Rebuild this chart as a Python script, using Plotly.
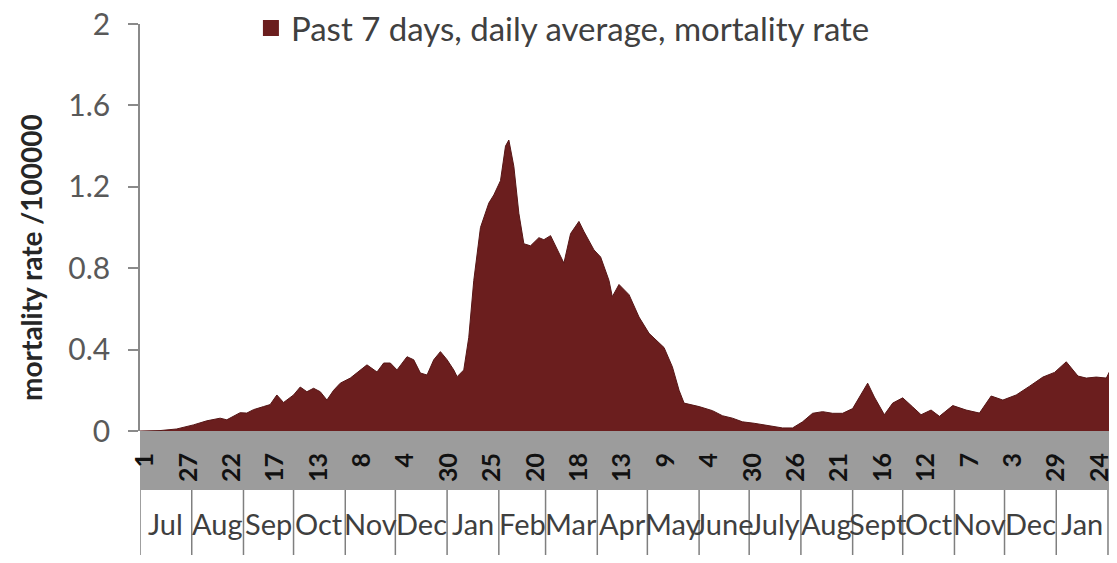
import plotly.graph_objects as go
import pandas as pd

# ---- data ----
dates = ['2020-07-01','2020-07-13','2020-07-23','2020-08-02','2020-08-10','2020-08-18','2020-08-22','2020-08-30','2020-09-03','2020-09-07',
         '2020-09-13','2020-09-17','2020-09-21','2020-09-25','2020-10-01','2020-10-05','2020-10-09','2020-10-13','2020-10-17','2020-10-21',
         '2020-10-25','2020-10-29','2020-11-04','2020-11-10','2020-11-14','2020-11-20','2020-11-24','2020-11-28','2020-12-02','2020-12-08',
         '2020-12-12','2020-12-16','2020-12-20','2020-12-24','2020-12-28','2021-01-01','2021-01-05','2021-01-07','2021-01-11','2021-01-14',
         '2021-01-17','2021-01-21','2021-01-26','2021-01-29','2021-02-02','2021-02-05','2021-02-07','2021-02-10','2021-02-13','2021-02-16',
         '2021-02-20','2021-02-25','2021-02-28','2021-03-04','2021-03-09','2021-03-12','2021-03-16','2021-03-21','2021-03-24','2021-03-30',
         '2021-04-03','2021-04-08','2021-04-10','2021-04-14','2021-04-20','2021-04-26','2021-05-02','2021-05-08','2021-05-11','2021-05-16',
         '2021-05-20','2021-05-23','2021-06-01','2021-06-09','2021-06-15','2021-06-21','2021-06-27','2021-07-04','2021-07-13','2021-07-21',
         '2021-07-27','2021-08-02','2021-08-08','2021-08-14','2021-08-20','2021-08-26','2021-09-01','2021-09-05','2021-09-10','2021-09-14',
         '2021-09-20','2021-09-25','2021-10-01','2021-10-07','2021-10-12','2021-10-18','2021-10-23','2021-10-31','2021-11-08','2021-11-16',
         '2021-11-23','2021-11-30','2021-12-08','2021-12-16','2021-12-24','2021-12-31','2022-01-07','2022-01-14','2022-01-19','2022-01-25',
         '2022-01-31','2022-02-03']

rate = [0.0, 0.002, 0.01, 0.03, 0.05, 0.063, 0.055, 0.09, 0.088, 0.105,
        0.12, 0.13, 0.177, 0.14, 0.177, 0.216, 0.193, 0.21, 0.193, 0.152,
        0.2, 0.235, 0.26, 0.30, 0.325, 0.29, 0.334, 0.334, 0.30, 0.365,
        0.35, 0.285, 0.275, 0.35, 0.39, 0.35, 0.30, 0.267, 0.30, 0.46,
        0.74, 1.0, 1.12, 1.16, 1.23, 1.40, 1.43, 1.30, 1.07, 0.92,
        0.91, 0.95, 0.94, 0.96, 0.88, 0.825, 0.97, 1.03, 0.98, 0.89,
        0.855, 0.74, 0.66, 0.72, 0.67, 0.56, 0.48, 0.43, 0.41, 0.315,
        0.20, 0.137, 0.12, 0.10, 0.075, 0.063, 0.045, 0.038, 0.025, 0.015,
        0.015, 0.045, 0.087, 0.095, 0.087, 0.087, 0.11, 0.167, 0.235, 0.167,
        0.08, 0.137, 0.163, 0.118, 0.08, 0.103, 0.072, 0.125, 0.103, 0.088,
        0.172, 0.152, 0.177, 0.22, 0.265, 0.288, 0.34, 0.27, 0.26, 0.265,
        0.26, 0.31]

tick_dates = ['2020-07-01','2020-07-27','2020-08-22','2020-09-17','2020-10-13','2020-11-08','2020-12-04','2020-12-30',
              '2021-01-25','2021-02-20','2021-03-18','2021-04-13','2021-05-09','2021-06-04','2021-06-30','2021-07-26',
              '2021-08-21','2021-09-16','2021-10-12','2021-11-07','2021-12-03','2021-12-29','2022-01-24']
tick_text = ['1','27','22','17','13','8','4','30','25','20','18','13','9','4','30','26','21','16','12','7','3','29','24']

month_starts = ['2020-07-01','2020-08-01','2020-09-01','2020-10-01','2020-11-01','2020-12-01','2021-01-01','2021-02-01',
                '2021-03-01','2021-04-01','2021-05-01','2021-06-01','2021-07-01','2021-08-01','2021-09-01','2021-10-01',
                '2021-11-01','2021-12-01','2022-01-01','2022-02-01']
month_names = ['Jul','Aug','Sep','Oct','Nov','Dec','Jan','Feb','Mar','Apr','May','June','July','Aug','Sept','Oct',
               'Nov','Dec','Jan','Feb']

x_start = '2020-07-01'
x_end = '2022-02-04'
series_name = 'Past 7 days, daily average, mortality rate'
y_title = 'mortality rate /100000'

# ---- style ----
FONT = 'Lato'
AREA = '#6b1e1e'
# the page body has an 8px margin on every side, so the figure is sized to fit
# inside the 1117x563 window without scrollbars
W, H = 1109, 547
ML, MR, MT, MB = 132, 4, 16, 124
plot_w = W - ML - MR
plot_h = H - MT - MB
band_bottom = -(490 - 431) / plot_h
month_label_y = -(523 - 431) / plot_h
row_bottom = -(570 - 431) / plot_h

fig = go.Figure()
fig.add_trace(go.Scatter(
    x=dates, y=rate, mode='lines', fill='tozeroy',
    line=dict(color='#561616', width=1), fillcolor=AREA,
    showlegend=False, hoverinfo='skip'))
# legend proxy (square key as in the reference)
fig.add_trace(go.Scatter(
    x=[None], y=[None], mode='markers', name=series_name,
    marker=dict(symbol='square', size=17, color=AREA)))

shapes = [dict(type='rect', xref='paper', yref='paper', x0=0, x1=1, y0=band_bottom, y1=0,
               fillcolor='#9c9c9c', line=dict(width=0), layer='below')]
for ms in month_starts:
    shapes.append(dict(type='line', xref='x', yref='paper', x0=ms, x1=ms, y0=band_bottom, y1=row_bottom,
                       line=dict(color='#7f7f7f', width=1.5)))

annotations = []
t0, t1 = pd.Timestamp(x_start), pd.Timestamp(x_end)
span = (t1 - t0)
nexts = [pd.Timestamp(m) for m in month_starts[1:]] + [pd.Timestamp('2022-03-01')]
for ms, me, name in zip(month_starts, nexts, month_names):
    s = pd.Timestamp(ms)
    if me <= t1:
        frac, anchor = ((s + (me - s) / 2) - t0) / span, 'center'
    else:
        frac, anchor = (s - t0) / span, 'left'   # cell truncated by the axis end
    annotations.append(dict(x=frac, y=month_label_y, xref='paper', yref='paper', text=name, showarrow=False,
                            xanchor=anchor, yanchor='middle',
                            font=dict(family=FONT, size=29, color='#3f3f3f')))
# y-axis title (sits a little below the axis centre in the reference)
annotations.append(dict(x=-(140 - 31) / plot_w, y=(431 - 258) / plot_h, xref='paper', yref='paper',
                        text=y_title, textangle=-90, showarrow=False, xanchor='center', yanchor='middle',
                        font=dict(family=FONT, size=28, color='#262626', weight='bold')))

fig.update_layout(
    width=W, height=H,
    margin=dict(l=ML, r=MR, t=MT, b=MB, autoexpand=False),
    paper_bgcolor='white', plot_bgcolor='rgba(0,0,0,0)',
    font=dict(family=FONT, color='#404040'),
    shapes=shapes, annotations=annotations,
    showlegend=True,
    legend=dict(x=0.114, y=0.99, xanchor='left', yanchor='middle', orientation='h',
                bgcolor='rgba(0,0,0,0)', itemwidth=30,
                font=dict(family=FONT, size=33, color='#404040')),
    xaxis=dict(type='date', range=[x_start, x_end], showgrid=False, zeroline=False, showline=False,
               automargin=False, ticklabeloverflow='allow',
               tickmode='array', tickvals=tick_dates, ticktext=tick_text, tickangle=-90,
               ticks='', ticklabelstandoff=16, ticklabelshift=5,
               tickfont=dict(family=FONT, size=25, color='#111111', weight='bold')),
    yaxis=dict(range=[0, 2], dtick=0.4, tick0=0, showgrid=False, zeroline=False,
               automargin=False, ticklabeloverflow='allow',
               showline=True, linecolor='#8a8a8a', linewidth=1.5,
               ticks='outside', ticklen=10, tickcolor='#8a8a8a', tickwidth=1.5,
               ticklabelstandoff=12,
               tickfont=dict(family=FONT, size=30, color='#595959')),
)

fig.write_html('out.html')
